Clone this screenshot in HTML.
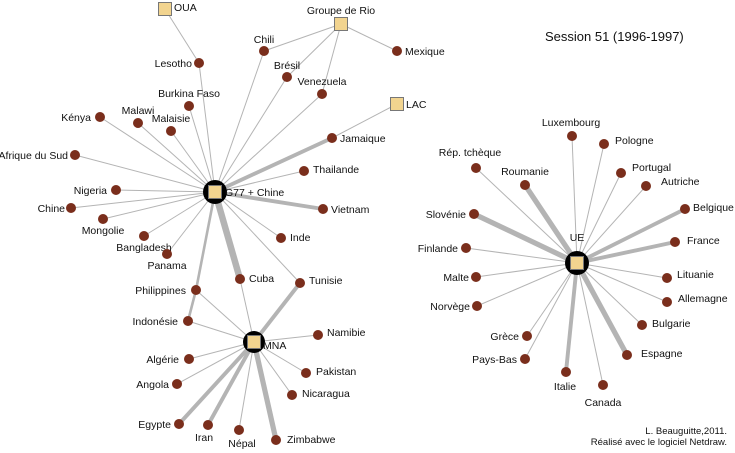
<!DOCTYPE html>
<html><head><meta charset="utf-8"><style>
html,body{margin:0;padding:0;background:#fff;}
svg{display:block;font-family:"Liberation Sans",sans-serif;font-size:10.5px;}
</style></head><body>
<svg id="net" width="735" height="453">
<text x="545" y="41" font-size="13" fill="#111">Session 51 (1996-1997)</text>
<text x="727" y="434" text-anchor="end" font-family="Liberation Sans, sans-serif" font-size="9.5" fill="#111">L. Beauguitte,2011.</text>
<text x="727" y="445" text-anchor="end" font-family="Liberation Sans, sans-serif" font-size="9.5" fill="#111">Réalisé avec le logiciel Netdraw.</text>
</svg>
<script>
// hubs: name, x, y, label dx, dy, anchor
const hubs = [
 ["G77 + Chine",215,192,10,4,"start"],
 ["MNA",254,342,9,7,"start"],
 ["UE",577,263,0,-22,"middle"],
 ["OUA",165,9,9,2,"start"],
 ["Groupe de Rio",341,24,0,-10,"middle"],
 ["LAC",397,104,9,4,"start"]
];
// countries: name, x, y, label dx, dy, anchor
const countries = [
 ["Lesotho",199,63,-7,4,"end"],["Chili",264,51,0,-8,"middle"],["Brésil",287,77,0,-8,"middle"],
 ["Venezuela",322,94,0,-9,"middle"],["Mexique",397,51,8,4,"start"],["Burkina Faso",189,106,0,-9,"middle"],
 ["Kénya",100,117,-9,4,"end"],["Malawi",138,123,0,-9,"middle"],["Malaisie",171,131,0,-9,"middle"],
 ["Afrique du Sud",75,155,-7,4,"end"],["Jamaique",332,138,8,4,"start"],["Thailande",304,171,9,2,"start"],
 ["Nigeria",116,190,-9,4,"end"],["Chine",71,208,-6,4,"end"],["Mongolie",103,219,0,15,"middle"],
 ["Bangladesh",144,236,0,15,"middle"],["Panama",167,254,0,15,"middle"],["Vietnam",323,209,8,4,"start"],
 ["Inde",281,238,9,3,"start"],["Cuba",240,279,9,3,"start"],["Tunisie",300,283,9,1,"start"],
 ["Philippines",196,290,-10,4,"end"],["Indonésie",188,321,-10,4,"end"],["Namibie",318,335,9,1,"start"],
 ["Algérie",189,359,-10,4,"end"],["Angola",177,384,-8,4,"end"],["Pakistan",306,373,10,2,"start"],
 ["Nicaragua",292,395,10,2,"start"],["Egypte",179,424,-8,4,"end"],["Iran",208,425,-4,16,"middle"],
 ["Népal",239,430,3,17,"middle"],["Zimbabwe",276,440,11,3,"start"],
 ["Luxembourg",572,136,-1,-10,"middle"],["Pologne",604,144,11,0,"start"],["Rép. tchèque",476,168,-6,-12,"middle"],
 ["Roumanie",525,185,0,-10,"middle"],["Portugal",621,173,11,-2,"start"],["Autriche",646,186,15,-1,"start"],
 ["Slovénie",474,214,-8,4,"end"],["Belgique",685,209,8,2,"start"],["Finlande",466,248,-8,4,"end"],
 ["France",675,242,12,2,"start"],["Malte",476,277,-7,4,"end"],["Lituanie",667,278,10,0,"start"],
 ["Norvège",477,306,-7,4,"end"],["Allemagne",667,302,11,0,"start"],["Bulgarie",642,325,10,2,"start"],
 ["Grèce",527,336,-8,4,"end"],["Pays-Bas",525,359,-8,4,"end"],["Espagne",627,355,14,2,"start"],
 ["Italie",566,372,-1,18,"middle"],["Canada",603,385,0,21,"middle"]
];
// edges: from, to, weight
const edges = [
 ["Lesotho","OUA",1],["Lesotho","G77 + Chine",1],["Chili","Groupe de Rio",1],["Chili","G77 + Chine",1],
 ["Brésil","Groupe de Rio",1],["Brésil","G77 + Chine",1],["Venezuela","Groupe de Rio",1],["Venezuela","G77 + Chine",1],
 ["Mexique","Groupe de Rio",1],["Jamaique","LAC",1],["Jamaique","G77 + Chine",3],
 ["Burkina Faso","G77 + Chine",1],["Kénya","G77 + Chine",1],["Malawi","G77 + Chine",1],["Malaisie","G77 + Chine",1],
 ["Afrique du Sud","G77 + Chine",1],["Thailande","G77 + Chine",1],["Nigeria","G77 + Chine",1],["Chine","G77 + Chine",1],
 ["Mongolie","G77 + Chine",1],["Bangladesh","G77 + Chine",1],["Panama","G77 + Chine",1],["Vietnam","G77 + Chine",3],
 ["Inde","G77 + Chine",1],["Cuba","G77 + Chine",5],["Cuba","MNA",1],["Tunisie","G77 + Chine",1],["Tunisie","MNA",3],
 ["Philippines","G77 + Chine",2],["Philippines","MNA",1],["Indonésie","Philippines",2],["Indonésie","MNA",1],
 ["Namibie","MNA",1],["Algérie","MNA",1],["Angola","MNA",1],["Pakistan","MNA",1],["Nicaragua","MNA",1],
 ["Egypte","MNA",3],["Iran","MNA",3],["Népal","MNA",1],["Zimbabwe","MNA",4],
 ["Luxembourg","UE",1],["Pologne","UE",1],["Rép. tchèque","UE",1],["Roumanie","UE",4],["Portugal","UE",1],
 ["Autriche","UE",1],["Slovénie","UE",4],["Belgique","UE",3],["Finlande","UE",1],["France","UE",3],
 ["Malte","UE",1],["Lituanie","UE",1],["Norvège","UE",1],["Allemagne","UE",1],["Bulgarie","UE",1],
 ["Grèce","UE",1],["Pays-Bas","UE",1],["Espagne","UE",4],["Italie","UE",3],["Canada","UE",1]
];
const NS="http://www.w3.org/2000/svg";
const svg=document.getElementById("net");
const pos={};
hubs.forEach(h=>pos[h[0]]=[h[1],h[2]]);
countries.forEach(c=>pos[c[0]]=[c[1],c[2]]);
function slug(s){return s.normalize("NFD").replace(/[\u0300-\u036f]/g,"").toLowerCase().replace(/[^a-z0-9]+/g,"-").replace(/^-|-$/g,"");}
const gE=document.createElementNS(NS,"g");svg.appendChild(gE);
edges.forEach(e=>{
 const a=pos[e[0]],b=pos[e[1]];
 const l=document.createElementNS(NS,"line");
 l.setAttribute("x1",a[0]);l.setAttribute("y1",a[1]);l.setAttribute("x2",b[0]);l.setAttribute("y2",b[1]);
 l.setAttribute("stroke","#b4b4b4");l.setAttribute("stroke-width",e[2]===1?1:e[2]*1.3);
 
 
 gE.appendChild(l);
});
countries.forEach(c=>{
 const g=document.createElementNS(NS,"g");
 
 
 const ci=document.createElementNS(NS,"circle");
 ci.setAttribute("cx",c[1]);ci.setAttribute("cy",c[2]);ci.setAttribute("r",5);ci.setAttribute("fill","#7a2e1c");
 g.appendChild(ci);
 const t=document.createElementNS(NS,"text");
 t.setAttribute("x",c[1]+c[3]);t.setAttribute("y",c[2]+c[4]);t.setAttribute("text-anchor",c[5]);t.setAttribute("fill","#111");
 t.textContent=c[0];g.appendChild(t);
 svg.appendChild(g);
});
hubs.forEach((h,i)=>{
 const g=document.createElementNS(NS,"g");
 
 
 if(i<3){
  const ci=document.createElementNS(NS,"circle");
  ci.setAttribute("cx",h[1]);ci.setAttribute("cy",h[2]);ci.setAttribute("r",i===1?11:12);ci.setAttribute("fill","#000");
  g.appendChild(ci);
 }
 const r=document.createElementNS(NS,"rect");
 r.setAttribute("x",h[1]-6.5);r.setAttribute("y",h[2]-6.5);r.setAttribute("width",13);r.setAttribute("height",13);
 r.setAttribute("fill","#f2d48f");r.setAttribute("stroke","#777");r.setAttribute("stroke-width",1);
 g.appendChild(r);
 const t=document.createElementNS(NS,"text");
 t.setAttribute("x",h[1]+h[3]);t.setAttribute("y",h[2]+h[4]);t.setAttribute("text-anchor",h[5]);t.setAttribute("fill","#111");
 t.textContent=h[0];g.appendChild(t);
 svg.appendChild(g);
});
</script>
</body></html>
